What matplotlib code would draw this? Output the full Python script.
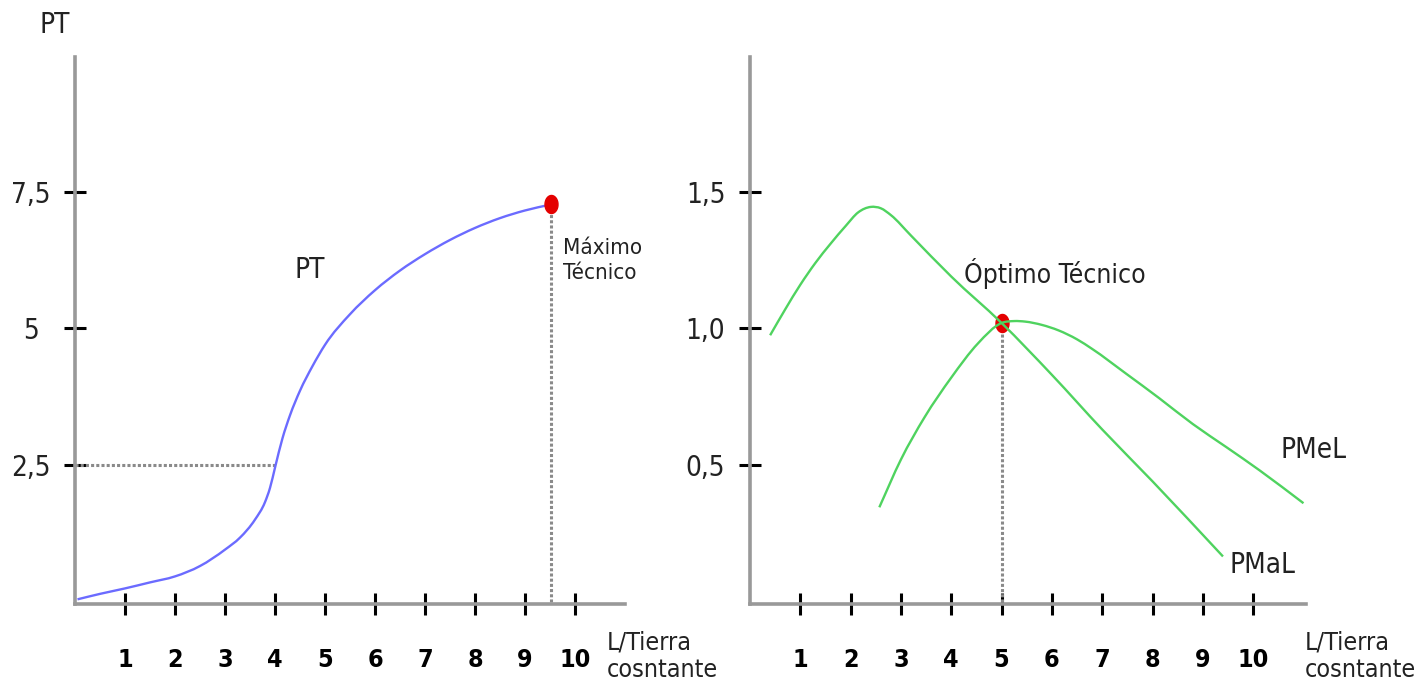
import numpy as np
import matplotlib
matplotlib.use("Agg")
import matplotlib.pyplot as plt
from matplotlib.path import Path
from matplotlib.patches import PathPatch

plt.rcParams['font.family'] = ['DejaVu Sans']
plt.rcParams['font.stretch'] = 'condensed'

# --- data ---
pt_x = [0.05, 0.5, 1.0, 1.5, 2.0, 2.5, 3.0, 3.3, 3.6, 3.8, 3.9, 4.0, 4.15, 4.3, 4.5, 4.75,
        5.0, 5.5, 6.0, 6.5, 7.0, 7.5, 8.0, 8.5, 9.0, 9.52]
pt_y = [0.04, 0.14, 0.24, 0.35, 0.46, 0.65, 0.95, 1.17, 1.5, 1.82, 2.08, 2.45, 2.99, 3.41, 3.86, 4.31,
        4.70, 5.26, 5.70, 6.06, 6.36, 6.62, 6.84, 7.02, 7.16, 7.27]
max_tec = (9.52, 7.27)
pt_ref = 2.5   # dotted guide level
pt_ref_x = 4.0

pmal_x = [0.4, 0.7, 1.0, 1.3, 1.6, 1.9, 2.15, 2.4, 2.6, 2.8, 3.2, 4.0, 5.0, 6.0, 7.0, 8.0, 9.4]
pmal_y = [0.975, 1.07, 1.16, 1.24, 1.31, 1.375, 1.425, 1.445, 1.44, 1.415, 1.34, 1.19, 1.02,
          0.83, 0.63, 0.44, 0.165]

pmel_x = [2.57, 3.0, 3.47, 4.0, 4.53, 5.0, 5.25, 5.47, 5.8, 6.13, 6.5, 6.8, 7.47, 8.13, 8.8,
          9.47, 10.13, 11.0]
pmel_y = [0.345, 0.52, 0.675, 0.82, 0.945, 1.02, 1.027, 1.025, 1.013, 0.993, 0.96, 0.925,
          0.835, 0.745, 0.65, 0.565, 0.48, 0.36]
opt_tec = (5.0, 1.02)

x_ticks = [1, 2, 3, 4, 5, 6, 7, 8, 9, 10]
left_yticks = [2.5, 5, 7.5]
left_ylabels = ['2,5', '5', '7,5']
right_yticks = [0.5, 1.0, 1.5]
right_ylabels = ['0,5', '1,0', '1,5']

W, H = 1414, 690
fig = plt.figure(figsize=(W / 100, H / 100), dpi=100)

# narrow ellipse marker like the original dot
t = np.linspace(0, 2 * np.pi, 40)
dot = Path(np.column_stack([0.72 * np.cos(t), np.sin(t)]))

gray = '#999999'
dashc = '#8a8a8a'
txtc = '#222222'


def smooth_line(ax, xs, ys, color):
    # bezier path through the read points (hermite tangents), no extra data points
    x = np.asarray(xs, float)
    y = np.asarray(ys, float)
    h = np.diff(x)
    d = np.diff(y) / h
    m = np.empty_like(x)
    m[0], m[-1] = d[0], d[-1]
    m[1:-1] = (h[1:] * d[:-1] + h[:-1] * d[1:]) / (h[:-1] + h[1:])
    verts = [(x[0], y[0])]
    codes = [Path.MOVETO]
    for i in range(len(x) - 1):
        verts += [(x[i] + h[i] / 3, y[i] + m[i] * h[i] / 3),
                  (x[i + 1] - h[i] / 3, y[i + 1] - m[i + 1] * h[i] / 3),
                  (x[i + 1], y[i + 1])]
        codes += [Path.CURVE4] * 3
    ax.add_patch(PathPatch(Path(verts, codes), fill=False, edgecolor=color, lw=1.7, zorder=5))


def style(ax, yticks, ylabels):
    for s in ['top', 'right']:
        ax.spines[s].set_visible(False)
    for s in ['left', 'bottom']:
        ax.spines[s].set_color(gray)
        ax.spines[s].set_linewidth(2.6)
    ax.set_xticks(x_ticks)
    ax.set_xticklabels([str(v) for v in x_ticks], fontsize=18, fontweight='bold')
    ax.set_yticks(yticks)
    ax.set_yticklabels(ylabels, fontsize=20, color=txtc)
    ax.tick_params(axis='both', direction='inout', length=16, width=2.2, color='black')
    ax.tick_params(axis='x', pad=24)
    ax.tick_params(axis='y', pad=24)
    for lab in ax.get_yticklabels():
        lab.set_horizontalalignment('center')


# ---- left panel ----
ax1 = fig.add_axes([75 / W, (H - 603.7) / H, 550 / W, 546.7 / H])
ax1.set_xlim(0, 11)
ax1.set_ylim(-0.04, 9.97)
style(ax1, left_yticks, left_ylabels)
ax1.plot([0, pt_ref_x], [pt_ref, pt_ref], color=dashc, lw=2.2, ls=(0, (1, 0.7)))
ax1.plot([max_tec[0], max_tec[0]], [0, max_tec[1]], color=dashc, lw=2.2, ls=(0, (1, 0.7)))
smooth_line(ax1, pt_x, pt_y, '#6b6bff')
ax1.plot(*max_tec, marker=dot, ms=13, color='#e40000', ls='none', zorder=6)
ax1.text(4.7, 6.07, 'PT', fontsize=20, ha='center', va='center', color=txtc)
ax1.text(9.76, 6.24, 'Máximo\nTécnico', fontsize=16, ha='left', va='center',
         color=txtc, linespacing=1.3)
ax1.text(10.64, -1.0, 'L/Tierra\ncosntante', fontsize=18, ha='left', va='center',
         color=txtc, linespacing=1.15, clip_on=False)
fig.text(55 / W, 1 - 25 / H, 'PT', fontsize=20, ha='center', va='center', color=txtc)

# ---- right panel ----
ax2 = fig.add_axes([750 / W, (H - 603.7) / H, 556 / W, 546.7 / H])
ax2.set_xlim(0, 11.05)
ax2.set_ylim(-0.008, 1.994)
style(ax2, right_yticks, right_ylabels)
ax2.plot([opt_tec[0], opt_tec[0]], [0, opt_tec[1]], color=dashc, lw=2.2, ls=(0, (1, 0.7)))
ax2.plot(*opt_tec, marker=dot, ms=13, color='#e40000', ls='none', zorder=4)
smooth_line(ax2, pmal_x, pmal_y, '#4fd35f')
smooth_line(ax2, pmel_x, pmel_y, '#4fd35f')
ax2.text(6.06, 1.203, 'Óptimo Técnico', fontsize=19, ha='center', va='center', color=txtc)
ax2.text(11.19, 0.555, 'PMeL', fontsize=20, ha='center', va='center', color=txtc, clip_on=False)
ax2.text(10.18, 0.134, 'PMaL', fontsize=20, ha='center', va='center', color=txtc)
ax2.text(11.03, -0.2, 'L/Tierra\ncosntante', fontsize=18, ha='left', va='center',
         color=txtc, linespacing=1.15, clip_on=False)

fig.savefig('out.png', dpi=100, facecolor='white')
